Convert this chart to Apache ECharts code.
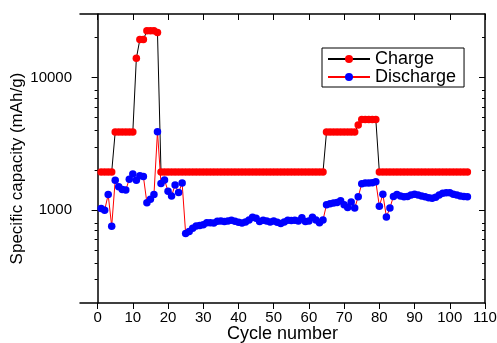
<!DOCTYPE html>
<html>
<head>
<meta charset="utf-8">
<script src="https://cdn.jsdelivr.net/npm/echarts@6/dist/echarts.min.js"></script>
<style>html,body{margin:0;padding:0;background:#fff;}#c{width:497px;height:343px;}</style>
</head>
<body>
<div id="c"></div>
<script>
const cycles = [1,2,3,4,5,6,7,8,9,10,11,12,13,14,15,16,17,18,19,20,21,22,23,24,25,26,27,28,29,30,31,32,33,34,35,36,37,38,39,40,41,42,43,44,45,46,47,48,49,50,51,52,53,54,55,56,57,58,59,60,61,62,63,64,65,66,67,68,69,70,71,72,73,74,75,76,77,78,79,80,81,82,83,84,85,86,87,88,89,90,91,92,93,94,95,96,97,98,99,100,101,102,103,104,105];
const charge = [1940,1940,1940,1940,3880,3880,3880,3880,3880,3880,
  13900,19300,19300,22400,22400,22400,21800,1940,1940,1940,
  1940,1940,1940,1940,1940,1940,1940,1940,1940,1940,
  1940,1940,1940,1940,1940,1940,1940,1940,1940,1940,
  1940,1940,1940,1940,1940,1940,1940,1940,1940,1940,
  1940,1940,1940,1940,1940,1940,1940,1940,1940,1940,
  1940,1940,1940,1940,3880,3880,3880,3880,3880,3880,
  3880,3880,3880,4370,4820,4820,4820,4820,4820,1940,
  1940,1940,1940,1940,1940,1940,1940,1940,1940,1940,
  1940,1940,1940,1940,1940,1940,1940,1940,1940,1940,
  1940,1940,1940,1940,1940];
const discharge = [1030,1000,1310,757,1680,1500,1430,1420,1710,1870,
  1680,1820,1790,1135,1210,1310,3890,1590,1690,1390,
  1280,1550,1360,1600,667,690,730,760,765,775,
  805,805,800,825,830,820,830,840,825,810,
  800,815,845,885,870,820,840,830,815,830,
  810,795,815,840,835,840,830,875,820,830,
  885,845,805,845,1100,1120,1130,1140,1175,1100,
  1048,1150,1040,1260,1580,1600,1600,1610,1640,1070,
  1320,890,1040,1270,1310,1280,1260,1270,1300,1320,
  1300,1280,1260,1240,1230,1250,1300,1340,1350,1350,
  1320,1300,1280,1270,1260];
const xTickValues = [0,10,20,30,40,50,60,70,80,90,100,110];
const yMajorTicks = [1000,10000];
const yMinorTicks = [300,400,500,600,700,800,2000,3000,4000,5000,6000,7000,8000,20000];
const seriesNames = ['Charge','Discharge'];
const xTitle = 'Cycle number';
const yTitle = 'Specific capacity (mAh/g)';

const FONT = 'Liberation Sans, Arial, sans-serif';
const axisLineStyle = {color:'#000', width:1.5};
const tickStyle = {color:'#000', width:1};
function yBase(extra){
  return Object.assign({type:'log', logBase:10, min:200, max:30000, splitLine:{show:false}, minorTick:{show:false}}, extra);
}
const chart = echarts.init(document.getElementById('c'), null, {renderer:'canvas'});
chart.setOption({
  animation:false,
  backgroundColor:'#fff',
  grid:{left:80, right:12, top:14, bottom:40, outerBoundsMode:'none'},
  legend:{
    show:true, orient:'vertical', left:322, top:48,
    data:seriesNames,
    itemWidth:42, itemHeight:10, itemGap:0,
    padding:[2,8,1,5],
    borderColor:'#000', borderWidth:1,
    textStyle:{fontFamily:FONT, fontSize:18, color:'#000', padding:[0,0,0,0]}
  },
  xAxis:[
    {type:'value', position:'bottom', min:-5, max:110,
     axisLine:{show:true, onZero:false, lineStyle:axisLineStyle},
     axisTick:{show:true, customValues:xTickValues, length:6, lineStyle:tickStyle},
     axisLabel:{show:true, customValues:xTickValues, fontFamily:FONT, fontSize:15, color:'#000', margin:7},
     splitLine:{show:false},
     name:xTitle, nameLocation:'middle', nameGap:22, nameMoveOverlap:false,
     nameTextStyle:{fontFamily:FONT, fontSize:18, color:'#000'}},
    {type:'value', position:'top', min:-5, max:110,
     axisLine:{show:true, onZero:false, lineStyle:axisLineStyle},
     axisTick:{show:true, inside:true, customValues:xTickValues, length:6, lineStyle:tickStyle},
     axisLabel:{show:false}, splitLine:{show:false}}
  ],
  yAxis:[
    yBase({position:'left',
      axisLine:{show:true, lineStyle:axisLineStyle},
      axisTick:{show:true, customValues:yMajorTicks, length:6, lineStyle:tickStyle},
      axisLabel:{show:true, customValues:yMajorTicks, formatter:function(v){return String(Math.round(v));}, fontFamily:FONT, fontSize:15, color:'#000', margin:8},
      name:yTitle, nameLocation:'middle', nameGap:54, nameMoveOverlap:false,
      nameTextStyle:{fontFamily:FONT, fontSize:17, color:'#000', padding:[0,20,0,0]}}),
    yBase({position:'left',
      axisLine:{show:false},
      axisTick:{show:true, customValues:yMinorTicks, length:3, lineStyle:tickStyle},
      axisLabel:{show:false}}),
    yBase({position:'right',
      axisLine:{show:true, lineStyle:axisLineStyle},
      axisTick:{show:true, inside:true, customValues:yMajorTicks, length:6, lineStyle:tickStyle},
      axisLabel:{show:false}}),
    yBase({position:'right',
      axisLine:{show:false},
      axisTick:{show:true, inside:true, customValues:yMinorTicks, length:3, lineStyle:tickStyle},
      axisLabel:{show:false}})
  ],
  series:[
    {name:seriesNames[0], type:'line', xAxisIndex:0, yAxisIndex:0,
     data:cycles.map((c,i)=>[c, charge[i]]),
     symbol:'circle', symbolSize:7.5, showAllSymbol:true,
     itemStyle:{color:'#ff0000', borderWidth:0},
     lineStyle:{color:'#000', width:1}, z:2},
    {name:seriesNames[1], type:'line', xAxisIndex:0, yAxisIndex:0,
     data:cycles.map((c,i)=>[c, discharge[i]]),
     symbol:'circle', symbolSize:7.5, showAllSymbol:true,
     itemStyle:{color:'#0000ff', borderWidth:0},
     lineStyle:{color:'#ff0000', width:1}, z:3}
  ]
});
</script>
</body>
</html>
